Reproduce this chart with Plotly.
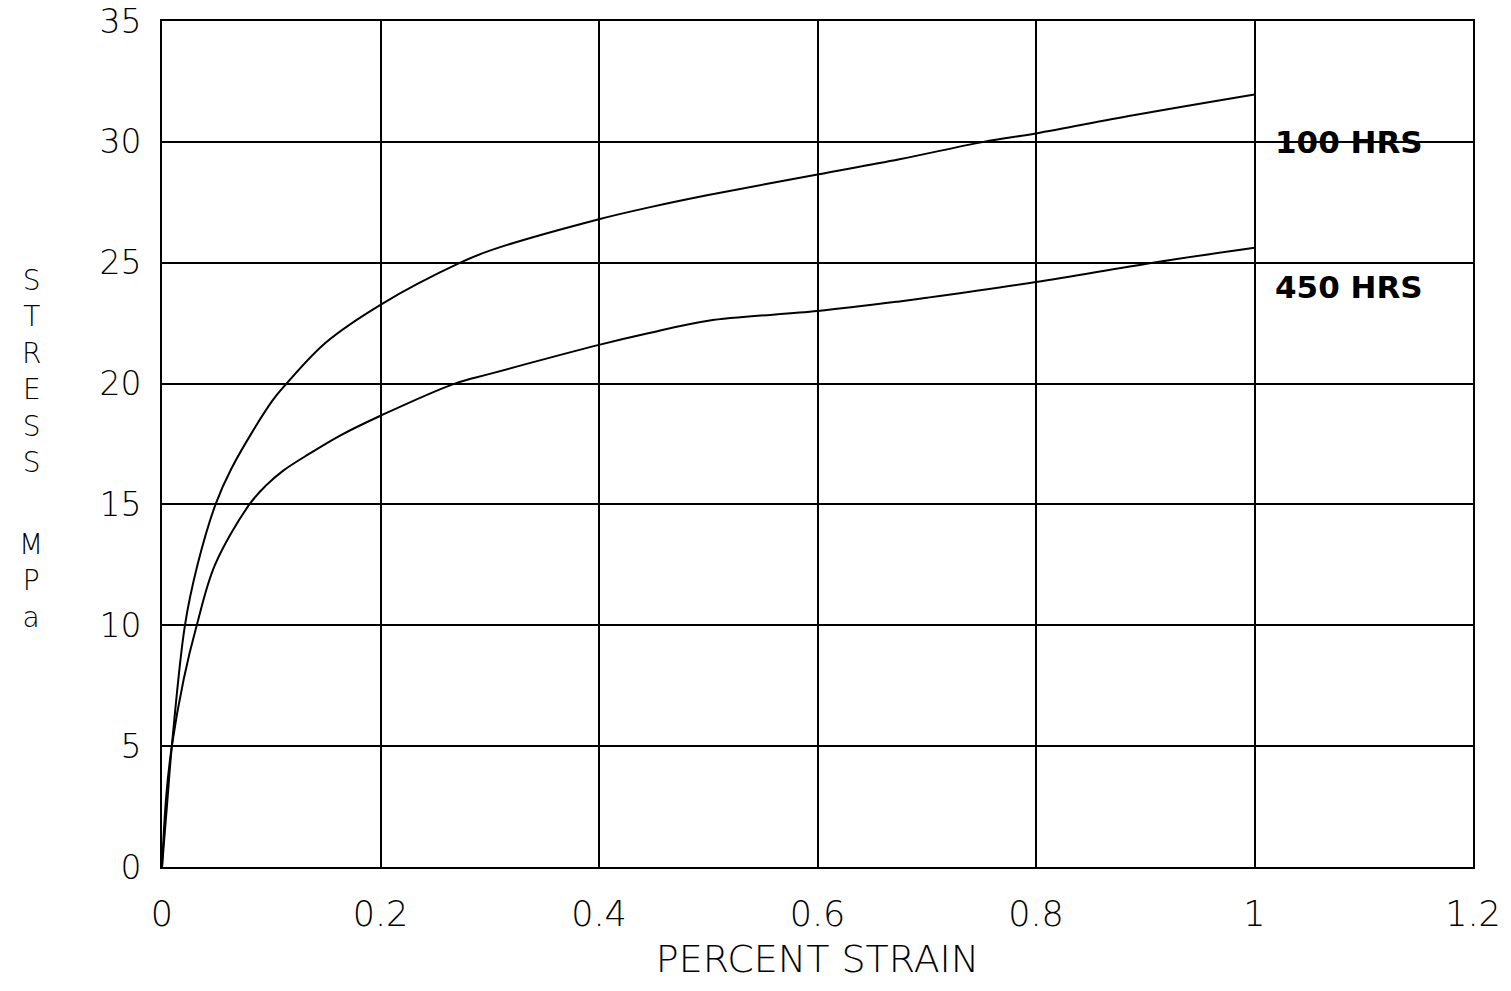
import plotly.graph_objects as go

# Data
strain_100 = [0, 0.005, 0.009, 0.021, 0.0325, 0.049, 0.0637, 0.1004, 0.114, 0.15, 0.2, 0.273, 0.3, 0.4, 0.447, 0.5, 0.6, 0.675, 0.752, 0.8, 0.889, 1.0]
stress_100 = [0, 2.8, 5.0, 10.0, 12.5, 15.0, 16.5, 19.25, 20.0, 21.7, 23.26, 25.0, 25.5, 26.8, 27.3, 27.8, 28.65, 29.28, 30.0, 30.35, 31.1, 31.96]

strain_450 = [0, 0.004, 0.009, 0.02, 0.0318, 0.0485, 0.080, 0.0958, 0.111, 0.135, 0.163, 0.2, 0.268, 0.3, 0.4, 0.447, 0.5, 0.6, 0.675, 0.7, 0.8, 0.907, 1.0]
stress_450 = [0, 3.0, 5.0, 7.8, 10.0, 12.5, 15.0, 15.81, 16.4, 17.1, 17.85, 18.67, 20.0, 20.4, 21.6, 22.1, 22.6, 23.0, 23.4, 23.55, 24.2, 25.0, 25.62]

x_ticks = [0, 0.2, 0.4, 0.6, 0.8, 1.0, 1.2]
x_tick_labels = ["0", "0.2", "0.4", "0.6", "0.8", "1", "1.2"]
y_ticks = [0, 5, 10, 15, 20, 25, 30, 35]
y_tick_labels = ["0", "5", "10", "15", "20", "25", "30", "35"]

series_labels = ["100 HRS", "450 HRS"]
label_y = [30.0, 24.0]

y_title_parts = ["STRESS", "MPa"]
y_title_center_px = [371, 581]

FONT = "DejaVu Sans ExtraLight, DejaVu Sans Light, DejaVu Sans"
BOLD = "DejaVu Sans"

fig = go.Figure()
fig.add_trace(go.Scatter(x=strain_100, y=stress_100, mode="lines",
                         line=dict(color="black", width=2, shape="spline", smoothing=1.0),
                         name=series_labels[0], showlegend=False))
fig.add_trace(go.Scatter(x=strain_450, y=stress_450, mode="lines",
                         line=dict(color="black", width=2, shape="spline", smoothing=1.0),
                         name=series_labels[1], showlegend=False))

L, R, T, B = 162, 38, 21, 124
W, H = 1511, 991
plot_h = H - T - B
plot_w = W - L - R

for lab, yv in zip(series_labels, label_y):
    fig.add_annotation(x=1.017, y=yv, xref="x", yref="y", text="<b>%s</b>" % lab,
                       showarrow=False, xanchor="left", yanchor="middle",
                       font=dict(family=BOLD, size=31, color="black"))

for part, py in zip(y_title_parts, y_title_center_px):
    fig.add_annotation(x=(31 - L) / plot_w, y=(H - B - py) / plot_h, xref="paper", yref="paper",
                       text="<br>".join(list(part)), showarrow=False,
                       xanchor="center", yanchor="middle", align="center",
                       font=dict(family=FONT, size=28, color="black"))

fig.update_layout(
    width=W, height=H,
    margin=dict(l=L, r=R, t=T, b=B, autoexpand=False),
    paper_bgcolor="white", plot_bgcolor="white",
    font=dict(family=FONT, size=34, color="black"),
    xaxis=dict(range=[0, 1.2], tickvals=x_ticks, ticktext=x_tick_labels,
               showgrid=True, gridcolor="black", gridwidth=2,
               showline=True, linecolor="black", linewidth=2, mirror=True,
               zeroline=False, ticks="", ticklabelstandoff=15, ticklabeloverflow="allow",
               automargin=False,
               tickfont=dict(family=FONT, size=35, color="black"),
               title=dict(text="PERCENT STRAIN", standoff=12,
                          font=dict(family=FONT, size=38, color="black"))),
    yaxis=dict(range=[0, 35], tickvals=y_ticks, ticktext=y_tick_labels,
               showgrid=True, gridcolor="black", gridwidth=2,
               showline=True, linecolor="black", linewidth=2, mirror=True,
               zeroline=False, ticks="", ticklabelstandoff=12, ticklabeloverflow="allow",
               automargin=False,
               tickfont=dict(family=FONT, size=33, color="black")),
)

fig.write_html("out.html")
